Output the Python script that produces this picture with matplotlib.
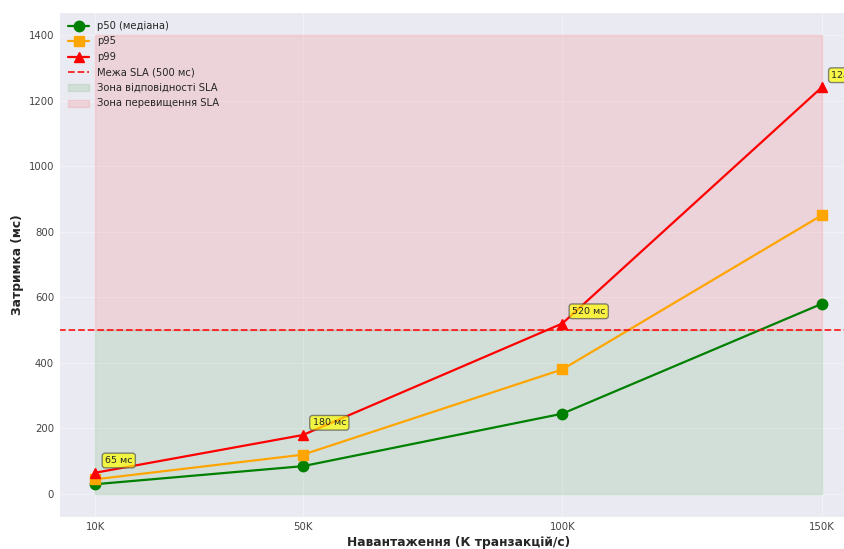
import matplotlib
matplotlib.use("Agg")
import matplotlib.pyplot as plt
import seaborn as sns

sns.set_style("darkgrid")
plt.rcParams['font.family'] = ['DejaVu Sans']

load_k = [10, 50, 100, 150]
tick_labels = ["10K", "50K", "100K", "150K"]
p50 = [30, 85, 245, 580]
p95 = [45, 120, 380, 850]
p99 = [65, 180, 520, 1240]
sla_limit = 500
zone_top = 1400
annot_idx = [0, 1, 2, 3]

fig = plt.figure(figsize=(8.45, 5.49), dpi=100)
ax = fig.add_axes([59/845, 32/549, (858-59)/845, (517-12)/549])

ax.plot(load_k, p50, color="green", marker="o", markersize=7.5, linewidth=1.6, label="p50 (медіана)")
ax.plot(load_k, p95, color="orange", marker="s", markersize=7.5, linewidth=1.6, label="p95")
ax.plot(load_k, p99, color="red", marker="^", markersize=7.5, linewidth=1.6, label="p99")
ax.axhline(sla_limit, color="red", linestyle="--", linewidth=1.3, alpha=0.85, label="Межа SLA (500 мс)")
ax.fill_between(load_k, 0, sla_limit, color="green", alpha=0.1, label="Зона відповідності SLA")
ax.fill_between(load_k, sla_limit, zone_top, color="red", alpha=0.1, label="Зона перевищення SLA")

for i in annot_idx:
    ax.annotate(f"{p99[i]} мс", xy=(load_k[i], p99[i]), xytext=(7, 7),
                textcoords="offset points", fontsize=6.8,
                bbox=dict(boxstyle="round,pad=0.3", facecolor="yellow", alpha=0.7, edgecolor="#555555"))

ax.grid(True, alpha=0.35)
ax.set_xlim(3, 157)
ax.set_ylim(-70, 1470)
ax.set_xticks(load_k)
ax.set_xticklabels(tick_labels)
ax.set_yticks(range(0, 1401, 200))
ax.tick_params(labelsize=7.3, colors="#444444", length=0, pad=3.5)
ax.set_xlabel("Навантаження (К транзакцій/с)", fontsize=8.8, fontweight="bold", labelpad=3)
ax.set_ylabel("Затримка (мс)", fontsize=8.8, fontweight="bold", labelpad=3)
ax.legend(loc="upper left", fontsize=7.2, frameon=False, borderaxespad=0.5,
          labelspacing=0.55, handlelength=2.1, handletextpad=0.8)

fig.savefig("out.png", dpi=100)
